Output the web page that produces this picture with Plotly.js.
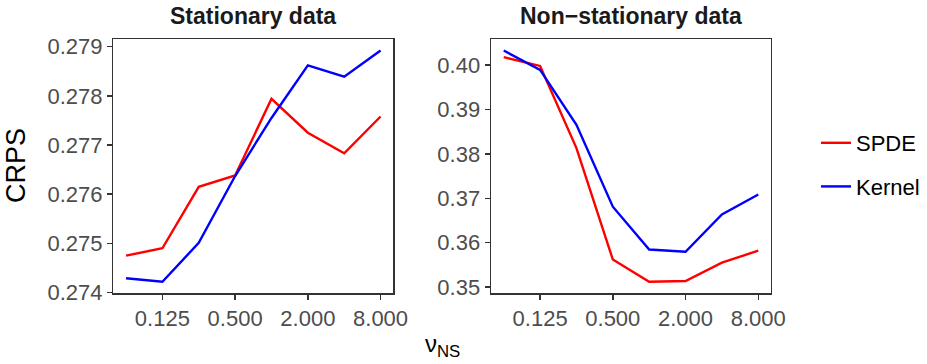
<!DOCTYPE html>
<html>
<head>
<meta charset="utf-8">
<script src="https://cdn.plot.ly/plotly-3.0.1.min.js"></script>
<style>html,body{margin:0;padding:0;background:#fff;}#chart{width:927px;height:364px;}</style>
</head>
<body>
<div id="chart"></div>
<script>
// Data
const nu = [0.0625, 0.125, 0.25, 0.5, 1, 2, 4, 8];
const statSPDE = [0.27475, 0.27490, 0.27615, 0.27638, 0.27794, 0.27725, 0.27683, 0.27758];
const statKernel = [0.27429, 0.27422, 0.27501, 0.27637, 0.27755, 0.27862, 0.27839, 0.27892];
const nonstatSPDE = [0.40177, 0.39980, 0.38130, 0.35620, 0.35120, 0.35135, 0.35550, 0.35820];
const nonstatKernel = [0.40326, 0.39890, 0.38656, 0.36810, 0.35847, 0.35795, 0.36634, 0.37083];
const seriesNames = ["SPDE", "Kernel"];
const panelTitles = ["Stationary data", "Non\u2212stationary data"];
const xTickVals = [0.125, 0.5, 2, 8];
const xTickText = ["0.125", "0.500", "2.000", "8.000"];
const statTicks = [0.274, 0.275, 0.276, 0.277, 0.278, 0.279];
const nonstatTicks = [0.35, 0.36, 0.37, 0.38, 0.39, 0.40];

const RED = "#FF0000", BLUE = "#0000FF";
const W = 927, H = 364;
const FONT = "Liberation Sans, Arial, Helvetica, sans-serif";

function expand(arrs, f) {
  const all = [].concat(...arrs);
  const mn = Math.min(...all), mx = Math.max(...all);
  const d = (mx - mn) * f;
  return [mn - d, mx + d];
}
const lx = nu.map(v => Math.log10(v));
const xr = expand([lx], 0.05);

const lineW = 2.4;
const traces = [
  {x: nu, y: statSPDE, xaxis: "x", yaxis: "y", mode: "lines", name: seriesNames[0], legendgroup: "a",
   line: {color: RED, width: lineW}, showlegend: true},
  {x: nu, y: statKernel, xaxis: "x", yaxis: "y", mode: "lines", name: seriesNames[1], legendgroup: "b",
   line: {color: BLUE, width: lineW}, showlegend: true},
  {x: nu, y: nonstatSPDE, xaxis: "x2", yaxis: "y2", mode: "lines", name: seriesNames[0], legendgroup: "a",
   line: {color: RED, width: lineW}, showlegend: false},
  {x: nu, y: nonstatKernel, xaxis: "x2", yaxis: "y2", mode: "lines", name: seriesNames[1], legendgroup: "b",
   line: {color: BLUE, width: lineW}, showlegend: false}
];

const axCommon = {
  showgrid: false, zeroline: false, showline: true, mirror: true,
  linecolor: "#333333", linewidth: 1.4,
  ticks: "outside", ticklen: 5, tickwidth: 1.4, tickcolor: "#333333",
  tickfont: {family: FONT, size: 22, color: "#4d4d4d"}
};
const yDom = [1 - 293.3 / H, 1 - 39 / H];
const d1 = [113.3 / W, 393.3 / W];
const d2 = [491 / W, 771 / W];

const layout = {
  width: W, height: H,
  margin: {l: 0, r: 0, t: 0, b: 0},
  paper_bgcolor: "#fff", plot_bgcolor: "#fff",
  font: {family: FONT},
  showlegend: true,
  legend: {x: 816 / W, xanchor: "left", y: 1 - 122 / H, yanchor: "top",
           font: {family: FONT, size: 22, color: "#000"}, tracegroupgap: 12,
           bgcolor: "rgba(0,0,0,0)"},
  xaxis: Object.assign({}, axCommon, {domain: d1, anchor: "y", type: "log", range: xr,
          tickvals: xTickVals, ticktext: xTickText}),
  yaxis: Object.assign({}, axCommon, {domain: yDom, anchor: "x",
          range: expand([statSPDE, statKernel], 0.05), tickvals: statTicks, tickformat: ".3f"}),
  xaxis2: Object.assign({}, axCommon, {domain: d2, anchor: "y2", type: "log", range: xr,
          tickvals: xTickVals, ticktext: xTickText}),
  yaxis2: Object.assign({}, axCommon, {domain: yDom, anchor: "x2",
          range: expand([nonstatSPDE, nonstatKernel], 0.05), tickvals: nonstatTicks, tickformat: ".2f"}),
  annotations: [
    {text: "<b>" + panelTitles[0] + "</b>", xref: "paper", yref: "paper", x: (d1[0] + d1[1]) / 2, y: 1 - 16 / H,
     xanchor: "center", yanchor: "middle", showarrow: false, font: {family: FONT, size: 23, color: "#1a1a1a"}},
    {text: "<b>" + panelTitles[1] + "</b>", xref: "paper", yref: "paper", x: (d2[0] + d2[1]) / 2, y: 1 - 16 / H,
     xanchor: "center", yanchor: "middle", showarrow: false, font: {family: FONT, size: 23, color: "#1a1a1a"}},
    {text: "CRPS", xref: "paper", yref: "paper", x: 16 / W, y: 1 - 166 / H, textangle: -90,
     xanchor: "center", yanchor: "middle", showarrow: false, font: {family: FONT, size: 27, color: "#000"}},
    {text: "\u03bd<sub>NS</sub>", xref: "paper", yref: "paper", x: 442 / W, y: 1 - 345 / H,
     xanchor: "center", yanchor: "middle", showarrow: false, font: {family: FONT, size: 24, color: "#000"}}
  ]
};

Plotly.newPlot("chart", traces, layout, {staticPlot: true, displayModeBar: false});
</script>
</body>
</html>
